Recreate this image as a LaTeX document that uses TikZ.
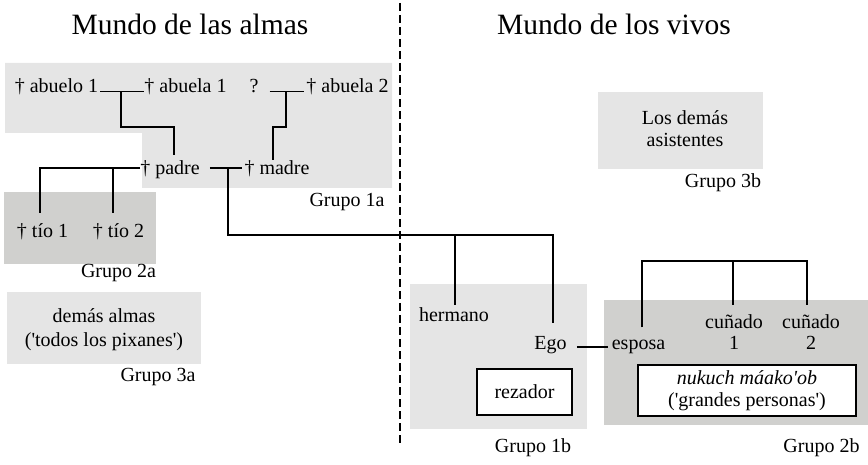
\documentclass[tikz,border=0pt]{standalone}
\usepackage{fontspec}
\setmainfont{Liberation Serif}
\usetikzlibrary{calc}
\definecolor{lightg}{HTML}{E5E5E5}
\definecolor{darkg}{HTML}{D0D0CE}
\begin{document}
\begin{tikzpicture}[x=1pt,y=-1pt,
  txt/.style={inner sep=0pt, font=\fontsize{20}{22}\selectfont, anchor=base},
  titletxt/.style={inner sep=0pt, font=\fontsize{29.5}{32}\selectfont, anchor=base},
  conn/.style={line width=1.8pt},
  boxed/.style={draw, line width=1.2pt, fill=white, inner sep=0pt, align=center, font=\fontsize{20}{22}\selectfont},
  divider/.style={line width=2pt, dash pattern=on 8pt off 4pt}]
\useasboundingbox (0,0) rectangle (868,465);
% group backgrounds
\fill[lightg] (5,63) -- (392,63) -- (392,188) -- (142,188) -- (142,133) -- (5,133) -- cycle;
\fill[darkg] (4,192) rectangle (156,264);
\fill[lightg] (7,292) rectangle (201,364);
\fill[lightg] (598,92) rectangle (763,169);
\fill[lightg] (410,284) rectangle (587,429);
\fill[darkg] (604,300) rectangle (868,425);
% divider
\coordinate (dtop) at (400,3);
\coordinate (dbot) at (400,443);
\draw[divider] (dtop) -- (dbot);
% titles
\node[titletxt] (t1) at (190,35) {Mundo de las almas};
\node[titletxt] (t2) at (614,35) {Mundo de los vivos};
% people
\node[txt] (abuelo1) at (56.5,93) {† abuelo 1};
\node[txt] (abuela1) at (185.5,93) {† abuela 1};
\node[txt] (q) at (254,93) {?};
\node[txt] (abuela2) at (347.5,93) {† abuela 2};
\node[txt] (padre) at (170,175) {† padre};
\node[txt] (madre) at (277,175) {† madre};
\node[txt] (tio1) at (42.5,238) {† tío 1};
\node[txt] (tio2) at (118.5,238) {† tío 2};
\node[txt] (almas1) at (104,323) {demás almas};
\node[txt] (almas2) at (104,346) {(\textquotesingle todos los pixanes\textquotesingle)};
\node[txt] (asis1) at (685,125) {Los demás};
\node[txt] (asis2) at (685,147) {asistentes};
\node[txt] (hermano) at (454,322) {hermano};
\node[txt] (Ego) at (550.5,349) {Ego};
\node[txt] (esposa) at (638.5,349) {esposa};
\node[txt] (cun1) at (734,328) {cuñado};
\node[txt] (cun1n) at (734,349) {1};
\node[txt] (cun2) at (811,328) {cuñado};
\node[txt] (cun2n) at (811,349) {2};
\node[boxed, minimum width=95pt, minimum height=46pt] (rez) at (524.5,392) {rezador};
\node[boxed, minimum width=218pt, minimum height=51pt] (nuk) at (747,390.5)
  {\textit{nukuch máako\textquotesingle ob}\\(\textquotesingle grandes personas\textquotesingle)};
% group labels
\node[txt] (g1a) at (347,207) {Grupo 1a};
\node[txt] (g2a) at (118.5,278) {Grupo 2a};
\node[txt] (g3a) at (158,381) {Grupo 3a};
\node[txt] (g3b) at (723,188) {Grupo 3b};
\node[txt] (g1b) at (533,452) {Grupo 1b};
\node[txt] (g2b) at (821.5,452) {Grupo 2b};
% connectors: paternal grandparents
\coordinate (j1) at (121,91.7);
\coordinate (k1) at (121,127);
\coordinate (k2) at (174,127);
\draw[conn, shorten <=2pt] ([yshift=1.5pt]abuelo1.base east) -- ([yshift=1.5pt]abuela1.base west);
\draw[conn, shorten >=6pt] (j1) -- (k1) -- (k2) -- (k2 |- padre.north);
% maternal grandparents
\coordinate (j2) at (286,91.7);
\coordinate (k3) at (286,127);
\coordinate (k4) at (273,127);
\draw[conn, shorten <=11pt, shorten >=2pt] ([yshift=1.5pt]q.base east) -- ([yshift=1.5pt]abuela2.base west);
\draw[conn, shorten >=1pt] (j2) -- (k3) -- (k4) -- (k4 |- madre.north);
% parents
\draw[conn, shorten <=10pt, shorten >=2pt] ([yshift=7pt]padre.base east) -- ([yshift=7pt]madre.base west);
\coordinate (j3) at (228,168);
\coordinate (b1) at (228,235);
\coordinate (b2) at (553,235);
\coordinate (b3) at (455,235);
\draw[conn, shorten >=13pt] (j3) -- (b1) -- (b2) -- (b2 |- Ego.north);
\draw[conn, shorten >=3pt] (b3) -- (b3 |- hermano.north);
% uncles
\coordinate (u1) at (40,168);
\coordinate (u2) at (113,168);
\draw[conn, shorten >=11pt] ([yshift=7pt]padre.base west) -- (u1) -- (u1 |- tio1.north);
\draw[conn, shorten >=11pt] (u2) -- (u2 |- tio2.north);
% Ego - esposa
\draw[conn, shorten <=10pt, shorten >=4pt] ([yshift=2pt]Ego.base east) -- ([yshift=2pt]esposa.base west);
% esposa and siblings
\coordinate (e1) at (642,261);
\coordinate (e2) at (733,261);
\coordinate (e3) at (807,261);
\draw[conn, shorten <=12pt, shorten >=9pt] (e1 |- esposa.north) -- (e1) -- (e3) -- (e3 |- cun2.north);
\draw[conn, shorten >=9pt] (e2) -- (e2 |- cun1.north);
\end{tikzpicture}
\end{document}
